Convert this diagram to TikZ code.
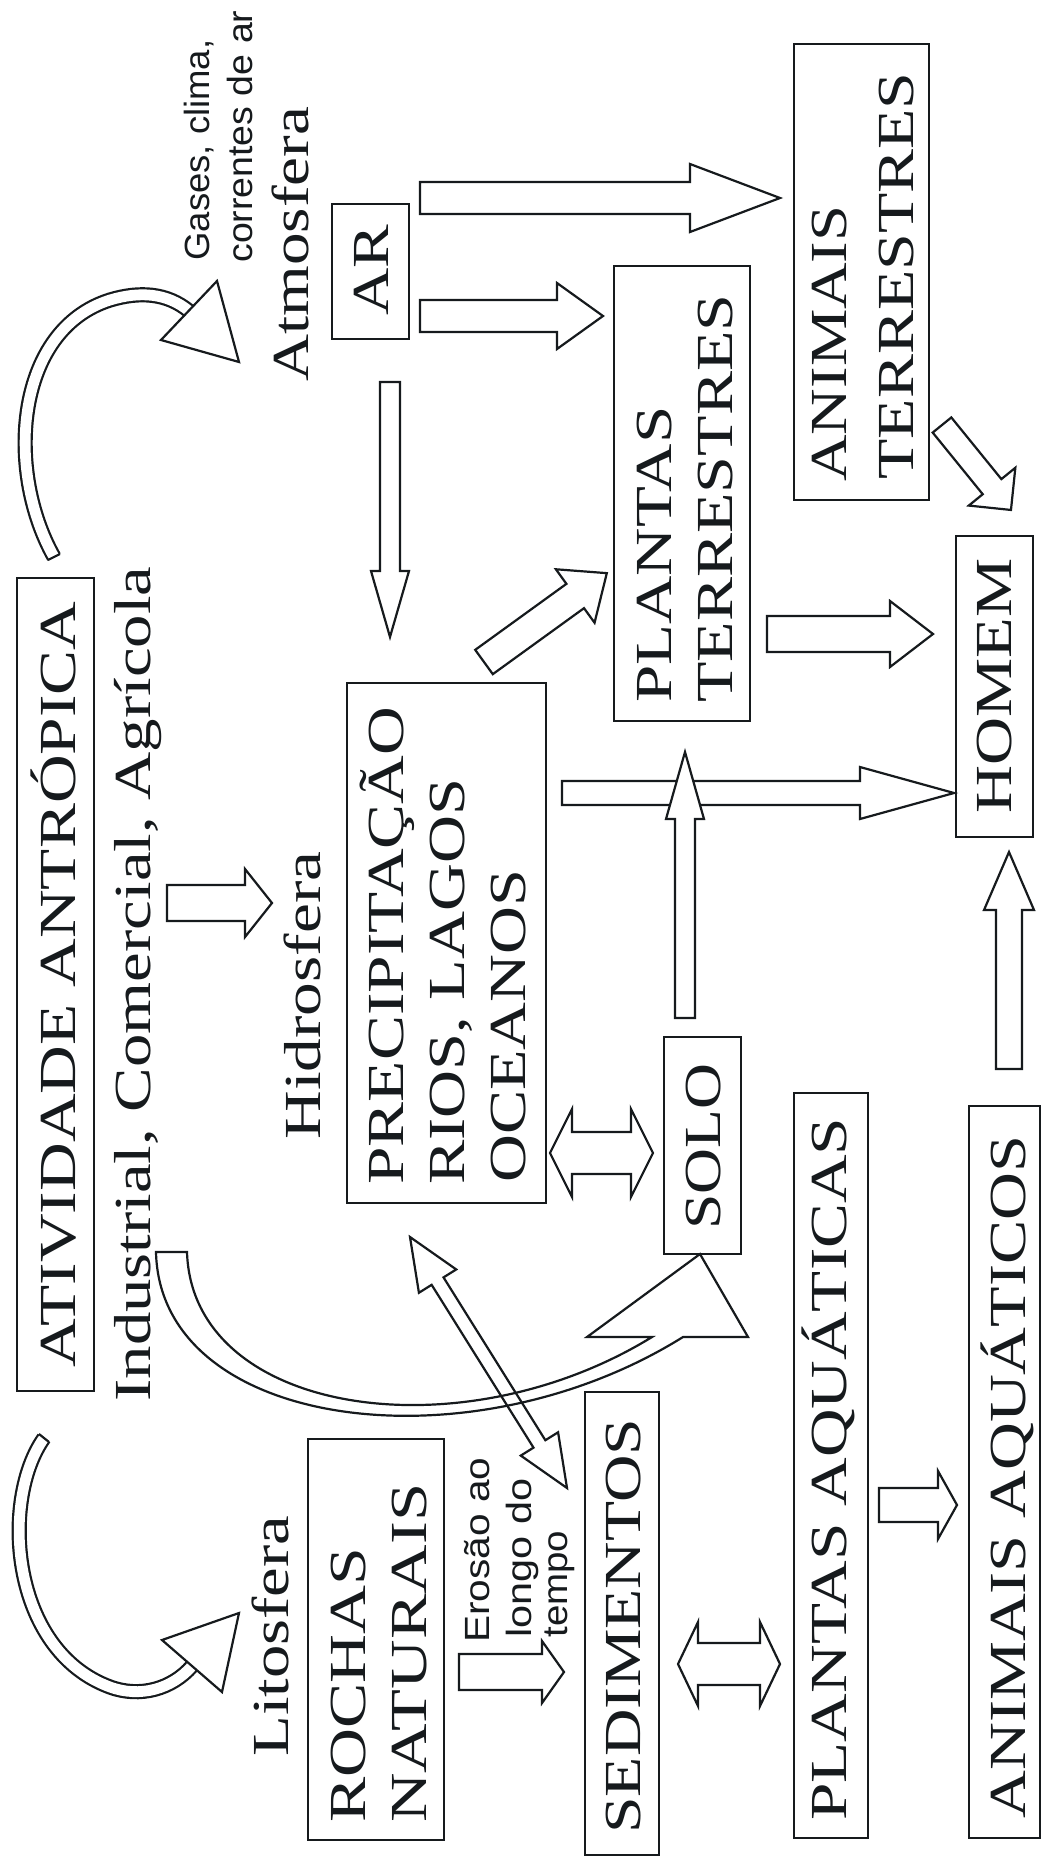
\documentclass[tikz,border=0pt]{standalone}
\usepackage{fontspec}
\setmainfont{Liberation Serif}
\newfontfamily\sansfam{Liberation Sans}
\usetikzlibrary{fit}
\definecolor{ink}{HTML}{161A1D}

\tikzset{
  cbox/.style={draw=ink, line width=1.4pt, inner sep=0pt},
  arw/.style={draw=ink, fill=white, line width=1.1pt, line join=miter},
  arwopen/.style={draw=ink, line width=1.1pt, line join=miter},
  cband/.style={draw=ink, double=white, double distance=5.4pt, line width=1.1pt},
  lbl/.style={anchor=base west, rotate=90, inner sep=0pt, text=ink},
  sertxt/.style={lbl, font=\fontsize{26}{30}\selectfont},
  santxt/.style={lbl, font=\sansfam\fontsize{17.5}{20}\selectfont},
}

\newcommand\BAsetup[2]{%
  \pgfmathanglebetweenpoints{\pgfpointanchor{#1}{center}}{\pgfpointanchor{#2}{center}}%
  \let\BAang\pgfmathresult
  \pgfpointdiff{\pgfpointanchor{#1}{center}}{\pgfpointanchor{#2}{center}}%
  \pgfgetlastxy{\BAdx}{\BAdy}%
  \pgfmathveclen{\BAdx}{\BAdy}\let\BAlen\pgfmathresult}

% single block arrow: [style]{tail}{tip}{shaft half}{head half}{head length} (px)
\newcommand\barrow[6][arw]{%
  \BAsetup{#2}{#3}%
  \pgfmathsetmacro\BAs{#4*0.5}\pgfmathsetmacro\BAh{#5*0.5}\pgfmathsetmacro\BAb{\BAlen-#6*0.5}%
  \begin{scope}[shift={(#2)}, rotate=\BAang]
    \path[#1] (0pt,\BAs pt) -- (\BAb pt,\BAs pt) -- (\BAb pt,\BAh pt) -- (\BAlen pt,0pt)
      -- (\BAb pt,-\BAh pt) -- (\BAb pt,-\BAs pt) -- (0pt,-\BAs pt) -- cycle;
  \end{scope}}

% double block arrow
\newcommand\dbarrow[6][arw]{%
  \BAsetup{#2}{#3}%
  \pgfmathsetmacro\BAs{#4*0.5}\pgfmathsetmacro\BAh{#5*0.5}\pgfmathsetmacro\BAa{#6*0.5}\pgfmathsetmacro\BAb{\BAlen-#6*0.5}%
  \begin{scope}[shift={(#2)}, rotate=\BAang]
    \path[#1] (0pt,0pt) -- (\BAa pt,\BAh pt) -- (\BAa pt,\BAs pt) -- (\BAb pt,\BAs pt)
      -- (\BAb pt,\BAh pt) -- (\BAlen pt,0pt) -- (\BAb pt,-\BAh pt) -- (\BAb pt,-\BAs pt)
      -- (\BAa pt,-\BAs pt) -- (\BAa pt,-\BAh pt) -- cycle;
  \end{scope}}

\begin{document}
\begin{tikzpicture}[x=0.5pt, y=-0.5pt]
\useasboundingbox (0,0) rectangle (1043,1874);
\clip (0,0) rectangle (1043,1874);
\fill[white] (0,0) rectangle (1043,1874);

% ---------- boxes ----------
\node[cbox, fit={(17,578) (94,1391)}] (ativ) {};
\node[cbox, fit={(332,204) (409,339)}] (ar) {};
\node[cbox, fit={(794,44) (929,500)}] (anter) {};
\node[cbox, fit={(614,266) (750,721)}] (plter) {};
\node[cbox, fit={(956,536) (1033,837)}] (homem) {};
\node[cbox, fit={(347,683) (546,1203)}] (prec) {};
\node[cbox, fit={(664,1037) (741,1254)}] (solo) {};
\node[cbox, fit={(794,1093) (868,1838)}] (plaq) {};
\node[cbox, fit={(969,1106) (1040,1838)}] (anaq) {};
\node[cbox, fit={(308,1439) (444,1840)}] (rochas) {};
\node[cbox, fit={(585,1392) (659,1855)}] (sed) {};

% ---------- texts ----------
\node[sertxt] (t-ativ) at (75,1368) {\resizebox{383pt}{\height}{ATIVIDADE ANTRÓPICA}};
\node[sertxt] (t-ind) at (150,1402) {\resizebox{417.5pt}{\height}{Industrial, Comercial, Agrícola}};
\node[sertxt] (t-hid) at (320,1140) {\resizebox{144pt}{\height}{Hidrosfera}};
\node[sertxt] (t-atm) at (308,382) {\resizebox{137.5pt}{\height}{Atmosfera}};
\node[sertxt] (t-lit) at (288,1757) {\resizebox{120.5pt}{\height}{Litosfera}};
\node[sertxt] (t-ar) at (388,316) {\resizebox{45.5pt}{\height}{AR}};
\node[sertxt] (t-at1) at (846,482) {\resizebox{138pt}{\height}{ANIMAIS}};
\node[sertxt] (t-at2) at (913,480) {\resizebox{203.5pt}{\height}{TERRESTRES}};
\node[sertxt] (t-pt1) at (671,703) {\resizebox{148pt}{\height}{PLANTAS}};
\node[sertxt] (t-pt2) at (732,703) {\resizebox{204pt}{\height}{TERRESTRES}};
\node[sertxt] (t-hom) at (1011,814) {\resizebox{127.5pt}{\height}{HOMEM}};
\node[sertxt] (t-pr1) at (403,1185) {\resizebox{239pt}{\height}{PRECIPITAÇÃO}};
\node[sertxt] (t-pr2) at (464,1185) {\resizebox{203pt}{\height}{RIOS, LAGOS}};
\node[sertxt] (t-pr3) at (525,1183) {\resizebox{156.5pt}{\height}{OCEANOS}};
\node[sertxt] (t-solo) at (720,1230) {\resizebox{83pt}{\height}{SOLO}};
\node[sertxt] (t-paq) at (846,1821) {\resizebox{351.5pt}{\height}{PLANTAS AQUÁTICAS}};
\node[sertxt] (t-aaq) at (1025,1819) {\resizebox{341.5pt}{\height}{ANIMAIS AQUÁTICOS}};
\node[sertxt] (t-ro1) at (365,1823) {\resizebox{137.5pt}{\height}{ROCHAS}};
\node[sertxt] (t-ro2) at (426,1823) {\resizebox{169.5pt}{\height}{NATURAIS}};
\node[sertxt] (t-sed) at (640,1834) {\resizebox{207.5pt}{\height}{SEDIMENTOS}};

\node[santxt] (t-gas1) at (209,261) {\resizebox{110.5pt}{\height}{Gases, clima,}};
\node[santxt] (t-gas2) at (252,263) {\resizebox{126pt}{\height}{correntes de ar}};
\node[santxt] (t-er1) at (489,1643) {\resizebox{92.5pt}{\height}{Erosão ao}};
\node[santxt] (t-er2) at (531,1638) {\resizebox{79.5pt}{\height}{longo do}};
\node[santxt] (t-er3) at (567,1638) {\resizebox{53.5pt}{\height}{tempo}};

% ---------- curved arrows ----------
\draw[cband] (54,557) .. controls (5,470) and (15,330) .. (110,300)
  .. controls (140,291) and (167,293) .. (189,311);
\draw[ink, line width=1.1pt] (48,560) -- (60,554);
\filldraw[arw] (217,281) -- (239,362) -- (161,340) -- cycle;

\draw[cband] (44,1438) .. controls (0,1500) and (10,1650) .. (110,1687)
  .. controls (140,1698) and (172,1689) .. (192,1666);
\draw[ink, line width=1.1pt] (39,1434) -- (49,1442);
\filldraw[arw] (162,1640) -- (239,1613) -- (222,1692) -- cycle;

\draw[arwopen] (156,1252) .. controls (160,1430) and (470,1470) .. (683,1337)
  -- (748,1337) -- (700,1254) -- (587,1337) -- (652,1337)
  .. controls (460,1455) and (192,1415) .. (187,1252) -- cycle;

% ---------- straight block arrows ----------
\coordinate (a1s) at (420,198);  \coordinate (a1e) at (780,198);
\coordinate (a2s) at (420,316);  \coordinate (a2e) at (603,316);
\coordinate (a3s) at (390,382);  \coordinate (a3e) at (390,637);
\coordinate (a4s) at (484,662);  \coordinate (a4e) at (607,573);
\coordinate (a5s) at (767,634);  \coordinate (a5e) at (933,634);
\coordinate (a6s) at (562,793);  \coordinate (a6e) at (954,793);
\coordinate (a7s) at (685,1018); \coordinate (a7e) at (685,752);
\coordinate (a8s) at (550,1153); \coordinate (a8e) at (653,1153);
\coordinate (a9s) at (1009,1069); \coordinate (a9e) at (1009,852);
\coordinate (a10s) at (167,903); \coordinate (a10e) at (272,903);
\coordinate (a11s) at (942,425); \coordinate (a11e) at (1011,510);
\coordinate (a12s) at (678,1664); \coordinate (a12e) at (780,1664);
\coordinate (a13s) at (879,1505); \coordinate (a13e) at (957,1505);
\coordinate (a14s) at (459,1672); \coordinate (a14e) at (564,1672);
\coordinate (a15s) at (410,1237); \coordinate (a15e) at (567,1488);

\barrow{a1s}{a1e}{16}{34}{90}
\barrow{a2s}{a2e}{16}{33}{46}
\barrow{a3s}{a3e}{10}{19}{66}
\barrow{a4s}{a4e}{15}{33}{39}
\barrow{a5s}{a5e}{18}{33}{43}
\barrow{a6s}{a6e}{12}{26}{94}
\barrow{a7s}{a7e}{10}{19}{67}
\dbarrow{a8s}{a8e}{21}{44}{22}
\barrow{a9s}{a9e}{13}{25}{58}
\barrow{a10s}{a10e}{18}{34}{27}
\barrow{a11s}{a11e}{12}{30}{30}
\dbarrow{a12s}{a12e}{21}{42}{20}
\barrow{a13s}{a13e}{17}{34}{19}
\barrow{a14s}{a14e}{18}{31}{22}
\dbarrow[arwopen]{a15s}{a15e}{7}{22}{52}
\end{tikzpicture}
\end{document}
